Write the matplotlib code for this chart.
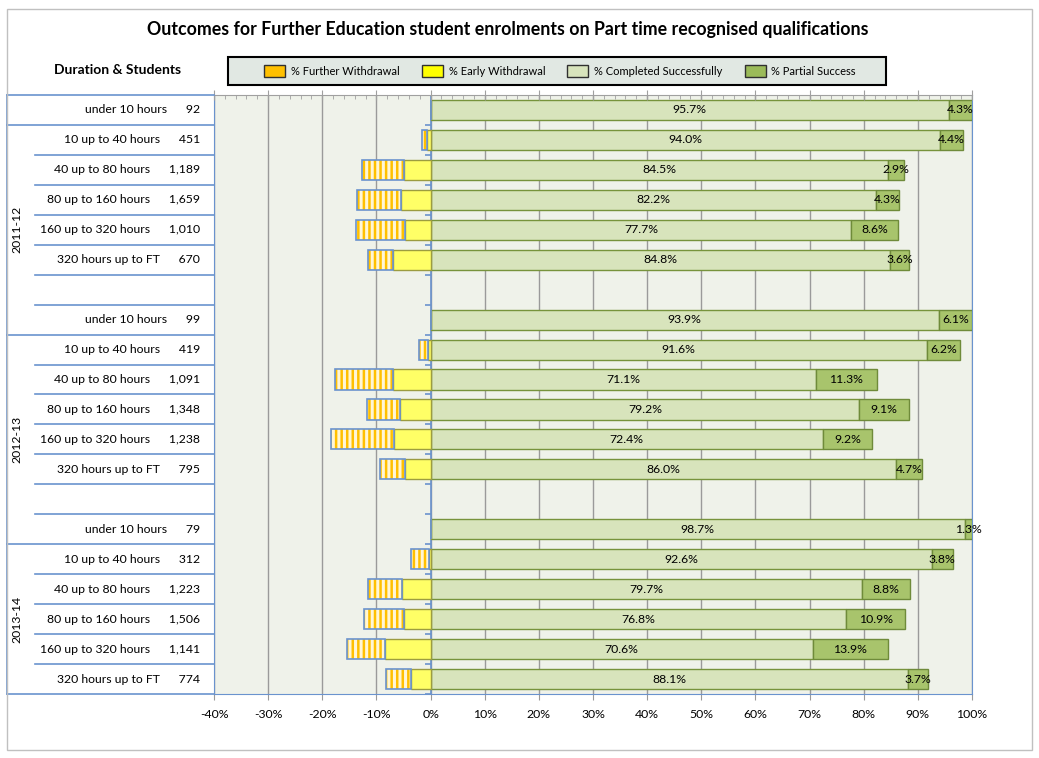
import numpy as np
import matplotlib.pyplot as plt
from matplotlib.patches import Patch, Rectangle
from matplotlib.ticker import MultipleLocator, FuncFormatter

plt.rcParams['font.family'] = 'Lato'
plt.rcParams['hatch.linewidth'] = 1.8

# one entry per chart row, blank rows separate the years
row_labels = ['under 10 hours', '10 up to 40 hours', '40 up to 80 hours',
              '80 up to 160 hours', '160 up to 320 hours', '320 hours up to FT', '',
              'under 10 hours', '10 up to 40 hours', '40 up to 80 hours',
              '80 up to 160 hours', '160 up to 320 hours', '320 hours up to FT', '',
              'under 10 hours', '10 up to 40 hours', '40 up to 80 hours',
              '80 up to 160 hours', '160 up to 320 hours', '320 hours up to FT']
students = [92, 451, 1189, 1659, 1010, 670, None,
            99, 419, 1091, 1348, 1238, 795, None,
            79, 312, 1223, 1506, 1141, 774]
completed = [95.7, 94.0, 84.5, 82.2, 77.7, 84.8, np.nan,
             93.9, 91.6, 71.1, 79.2, 72.4, 86.0, np.nan,
             98.7, 92.6, 79.7, 76.8, 70.6, 88.1]
partial = [4.3, 4.4, 2.9, 4.3, 8.6, 3.6, np.nan,
           6.1, 6.2, 11.3, 9.1, 9.2, 4.7, np.nan,
           1.3, 3.8, 8.8, 10.9, 13.9, 3.7]
early = [0.0, 0.6, 5.0, 5.5, 4.8, 6.9, np.nan,
         0.0, 0.5, 7.0, 5.7, 6.8, 4.8, np.nan,
         0.0, 0.3, 5.3, 5.0, 8.5, 3.7]
further = [0.0, 1.0, 7.6, 8.0, 8.9, 4.7, np.nan,
           0.0, 1.7, 10.6, 6.0, 11.6, 4.5, np.nan,
           0.0, 3.3, 6.2, 7.3, 7.0, 4.5]
years = ['2011-12', '2012-13', '2013-14']
year_spans = [(0.5, 7.5), (7.5, 14.5), (14.5, 19.5)]

W, H = 1039, 758
BLUE = '#6A93CE'
GRID = '#9A9A9A'

fig = plt.figure(figsize=(W / 100, H / 100), dpi=100)
fig.patches.append(Rectangle((7 / W, 1 - 750 / H), 1025 / W, 741 / H,
                             transform=fig.transFigure, fill=False,
                             edgecolor='#C0C0C0', lw=1))

left, right, top, bot = 214, 972, 95, 694
ax = fig.add_axes([left / W, 1 - bot / H, (right - left) / W, (bot - top) / H])
ax.set_facecolor('#EFF2EA')

y = np.arange(len(row_labels))
comp = np.array(completed)
part = np.array(partial)
erl = np.array(early)
fur = np.array(further)
ok = ~np.isnan(comp)
yk = y[ok]
bh = 0.67

ax.barh(yk, comp[ok], height=bh, color='#D8E4BC', edgecolor='#77933C', lw=1, zorder=3)
ax.barh(yk, part[ok], left=comp[ok], height=bh, color='#A8C46C',
        edgecolor='#6F8B3A', lw=1, zorder=3)
ax.barh(yk, -erl[ok], height=bh, color='#FFFF66', edgecolor='#9C9C40', lw=1, zorder=3)
ax.barh(yk, -fur[ok], left=-erl[ok], height=bh, color='#FFF6D6', hatch='|||',
        edgecolor='#FFC000', lw=0, zorder=3)
ax.barh(yk, -fur[ok], left=-erl[ok], height=bh, fill=False, edgecolor=BLUE,
        lw=1.2, zorder=4)

for yi, c, p in zip(yk, comp[ok], part[ok]):
    ax.text(c / 2, yi, f'{c:.1f}%', ha='center', va='center', fontsize=8.8, zorder=5)
    ax.text(c + p / 2, yi, f'{p:.1f}%', ha='center', va='center', fontsize=8.8, zorder=5)

ax.set_xlim(-40, 100)
ax.set_ylim(len(row_labels) - 0.5, -0.5)
ax.set_yticks([])
ax.xaxis.set_major_locator(MultipleLocator(10))
ax.xaxis.set_major_formatter(FuncFormatter(lambda v, _: f'{v:.0f}%'))
ax.tick_params(axis='x', length=4, color=GRID, labelsize=8.8, pad=7)
ax.grid(axis='x', color=GRID, lw=1, zorder=0)
ax.set_axisbelow(True)
for s in ['left', 'right', 'bottom']:
    ax.spines[s].set_color(BLUE)
ax.spines['top'].set_color('#A0A0A0')

# zero line with category ticks
ax.axvline(0, color=BLUE, lw=1.2, zorder=2)
ax.hlines(np.arange(-0.5, len(row_labels)), -1.0, 0, color=BLUE, lw=1.2, zorder=2)

# tick marks along the top edge
axt = ax.twiny()
axt.set_xlim(-40, 100)
axt.xaxis.set_major_locator(MultipleLocator(10))
axt.xaxis.set_minor_locator(MultipleLocator(2))
axt.tick_params(which='major', direction='inout', length=7, color='#A0A0A0', labeltop=False)
axt.tick_params(which='minor', direction='in', length=3, color='#A0A0A0')
for s in axt.spines.values():
    s.set_visible(False)

# category table on the left
tab = fig.add_axes([7 / W, 1 - bot / H, (left - 7) / W, (bot - top) / H], sharey=ax)
tab.set_xlim(0, left - 7)
tab.axis('off')
group_edges = [-0.5, 0.5, 7.5, 14.5, 19.5]
for b in np.arange(-0.5, len(row_labels)):
    x0 = 0 if b in group_edges else 28
    tab.plot([x0, left - 7], [b, b], color=BLUE, lw=1.2, clip_on=False)
tab.plot([0, 0], [-0.5, 19.5], color=BLUE, lw=1.2, clip_on=False)
for yi, lab, n in zip(y, row_labels, students):
    if n is None:
        continue
    tab.text(193, yi, f'{lab}      {n:,}', ha='right', va='center', fontsize=8.8)
for yr, (a, b) in zip(years, year_spans):
    tab.text(10, (a + b) / 2, yr, rotation=90, ha='center', va='center', fontsize=8.8)

fig.text(508 / W, 1 - 30 / H,
         'Outcomes for Further Education student enrolments on Part time recognised qualifications',
         ha='center', va='center', fontsize=12.8, fontweight='bold')
fig.text(118 / W, 1 - 70 / H, 'Duration & Students', ha='center', va='center',
         fontsize=10, fontweight='bold')

# legend box
fig.patches.append(Rectangle((228 / W, 1 - 85 / H), 658 / W, 28 / H,
                             transform=fig.transFigure, facecolor='#E1E8E3',
                             edgecolor='black', lw=1.5, zorder=1))
handles = [Patch(facecolor='#FFC000', edgecolor='#303030'),
           Patch(facecolor='#FFFF00', edgecolor='#303030'),
           Patch(facecolor='#D8E4BC', edgecolor='#303030'),
           Patch(facecolor='#9BBB59', edgecolor='#303030')]
names = ['% Further Withdrawal', '% Early Withdrawal', '% Completed Successfully',
         '% Partial Success']
fig.legend(handles, names, loc='center', bbox_to_anchor=(560 / W, 1 - 71 / H),
           ncol=4, fontsize=8, frameon=False,
           handlelength=1.9, handleheight=1.2, handletextpad=0.5,
           columnspacing=2.0)

fig.savefig('out.png', dpi=100)
